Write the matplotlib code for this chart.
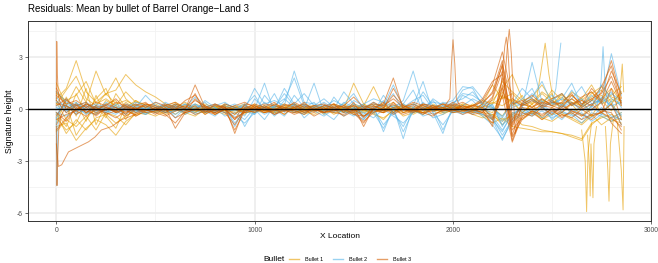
import numpy as np
import matplotlib
matplotlib.use("Agg")
import matplotlib.pyplot as plt
from matplotlib.lines import Line2D

plt.rcParams["font.family"] = ["Liberation Sans", "DejaVu Sans"]

# shared x grid of the signature samples (every 50 units)
x_grid = np.arange(0, 2851, 50)

# Bullet 1 residual signatures (values at x_grid)
b1_lines = [
    [0.6, 1.2, 2.8, 1.0, 0.4, 0.9, 0.3, 0.5, 0.2, 0.1,
     0.2, -0.1, 0.3, 0.1, -0.2, 0.2, 0.0, 0.3, 0.1, -0.1,
     0.2, 0.1, -0.2, 0.1, 0.3, 0.0, -0.1, 0.2, 0.1, 0.0,
     0.3, 0.1, -0.2, 0.0, 0.2, 0.1, -0.1, 0.3, 0.0, 0.1,
     0.2, 0.0, -0.1, 0.3, 0.5, 1.2, 2.0, 0.6, 0.3, 0.9,
     0.4, 0.2, 0.6, 0.1, 0.5, 0.8, 0.3, 1.0],
    [-0.5, -1.2, -0.8, 0.4, 2.2, 0.8, 1.8, 0.6, 0.1, -0.2,
     -0.1, 0.2, -0.3, 0.1, 0.0, -0.2, 0.2, -0.1, 0.1, 0.3,
     -0.2, 0.0, 0.1, -0.3, 0.1, 0.2, 0.0, -0.1, 0.3, -0.2,
     0.1, -0.4, 0.0, 0.2, -0.1, 0.1, 0.0, -0.2, 0.2, 0.1,
     -0.1, 0.3, 0.0, -0.2, -0.3, -0.6, -0.4, -0.9, -1.0, -1.2,
     -1.3, -1.4, -1.5, -1.7, -0.8, -0.5, -0.3, -0.6],
    [1.0, 0.3, -1.5, -0.6, 0.2, 0.9, 1.1, 2.0, 1.4, 1.0,
     0.7, 0.3, 0.1, 0.4, 0.0, -0.1, 0.2, 0.1, -0.2, 0.0,
     0.0, 0.2, -0.1, 0.1, 0.0, 0.3, 0.1, -0.2, 0.2, 0.0,
     1.5, 0.3, 0.0, -0.2, 0.1, 0.2, -0.1, 0.0, 0.1, 0.3,
     0.0, 0.2, 0.1, -0.1, 0.3, 0.7, 0.5, 0.2, 0.4, 1.0,
     0.6, 0.8, 0.4, 0.2, 0.9, 1.3, 0.7, 0.5],
    [-1.0, -0.8, -1.8, -1.1, -0.6, -0.9, -1.5, -0.7, -0.3, -0.2,
     -0.4, -0.1, 0.0, -0.3, 0.1, -0.2, -0.1, 0.0, -0.3, 0.1,
     -0.1, -0.2, 0.0, 0.1, -0.2, -0.1, 0.1, -0.3, 0.0, -0.1,
     -0.2, 0.0, -0.3, -0.5, -0.1, 0.0, -0.2, 0.1, -0.1, 0.0,
     -0.2, -0.1, 0.0, -0.3, -0.6, 0.8, 0.4, -0.2, 0.3, 0.6,
     0.2, 0.9, 0.3, -0.4, 0.2, 0.6, 1.2, 0.4],
    [0.3, 1.1, 1.9, 0.6, 0.2, -0.5, 0.9, 0.1, 0.5, 0.2,
     0.3, 0.0, 0.2, -0.1, 0.3, 0.1, -0.2, 0.2, 0.0, -0.1,
     0.2, 0.0, 0.3, -0.1, 0.1, 0.0, 0.2, -0.2, 0.1, 0.3,
     0.0, 0.2, 1.3, 0.1, -0.2, 0.3, -0.1, 0.0, 0.2, -0.1,
     0.3, 0.1, 0.2, 0.5, 0.3, 1.6, 1.0, 0.5, 0.7, 1.4,
     0.5, 0.3, 1.0, 0.6, 1.4, 0.4, 0.8, 1.3],
    [-0.3, -1.4, -0.6, -1.2, -0.5, -0.3, -0.8, -0.4, -0.1, 0.0,
     -0.2, 0.1, -0.1, 0.0, -0.2, 0.1, 0.0, -0.1, 0.1, -0.2,
     0.0, -0.1, -0.2, 0.0, 0.1, -0.1, -0.3, 0.0, -0.1, 0.1,
     -0.1, -0.2, 0.0, -0.1, 0.1, -0.4, -0.2, 0.0, -0.1, -0.3,
     0.0, -0.2, -0.1, -0.4, -0.8, -0.5, -1.0, -1.1, -1.2, -1.3,
     -1.3, -1.4, -1.6, -1.8, -0.9, -0.4, -0.7, -0.5],
    [0.9, 0.5, 0.8, 1.6, 0.3, 0.6, 0.2, 1.0, 0.4, 0.3,
     0.1, 0.2, 0.4, 0.1, 0.0, 0.3, 0.1, 0.2, 0.0, 0.1,
     0.0, 0.2, 0.1, 0.3, 0.0, 0.1, 0.2, 0.0, 0.3, 0.1,
     0.2, 0.1, 0.3, 0.0, 0.2, 0.1, 0.3, 0.1, 0.0, 0.2,
     0.1, 0.3, 0.2, 0.1, 0.4, 0.2, 0.6, 0.3, 0.1, 0.5,
     0.3, 0.7, 0.2, 0.5, 1.0, 0.3, 0.6, 0.2],
    [-1.3, -0.6, -1.0, -0.4, -1.2, -0.2, -0.4, -0.9, -0.2, -0.3,
     -0.1, -0.3, 0.0, -0.2, -0.4, 0.0, -0.1, -0.3, 0.0, -0.2,
     -0.1, 0.0, -0.2, -0.1, 0.0, -0.3, -0.1, 0.0, -0.2, -0.1,
     -0.3, -0.1, -0.2, -0.6, 0.0, -0.2, -0.1, -0.3, 0.0, -0.2,
     -0.1, 0.0, -0.3, -0.5, -0.3, -0.9, -0.2, -0.4, -0.1, -0.6,
     -0.3, -0.2, -0.5, -0.8, -0.3, -0.9, -0.5, -0.2],
    [0.4, -0.6, 0.9, -0.3, 0.6, 1.2, -0.2, 0.4, 0.0, 0.2,
     -0.2, 0.1, 0.3, -0.1, 0.2, -0.3, 0.1, 0.2, -0.1, 0.0,
     0.3, -0.1, 0.1, 0.2, -0.2, 0.0, 0.2, 0.1, -0.1, 0.2,
     0.0, 0.3, -0.1, 0.1, 0.4, -0.2, 0.1, 0.2, -0.1, 0.0,
     0.2, -0.1, 0.3, 0.0, -0.2, 1.0, 0.2, 0.8, -0.3, 0.4,
     0.9, -0.2, 0.3, 0.6, -0.4, 0.5, -0.1, 0.7],
    [-0.8, 0.7, -0.4, 1.2, -0.9, 0.3, 0.5, -0.6, 0.3, -0.1,
     0.1, -0.2, 0.0, 0.2, -0.1, 0.1, -0.3, 0.0, 0.2, -0.1,
     -0.2, 0.1, 0.0, -0.1, 0.2, -0.2, 0.0, 0.1, -0.3, 0.0,
     0.2, -0.1, 0.0, 0.3, -0.2, 0.1, -0.3, 0.0, 0.1, -0.2,
     0.0, 0.1, -0.2, 0.2, 0.1, -0.4, 0.5, -0.2, 0.3, -0.5,
     0.1, 0.4, -0.3, 0.2, 0.6, -0.2, 0.3, -0.4],
    [1.5, 0.2, 1.3, 0.4, -0.3, 0.5, 0.2, -0.3, 0.5, 0.1,
     0.0, 0.2, -0.1, 0.3, 0.1, 0.0, 0.2, -0.2, 0.1, 0.2,
     0.1, -0.2, 0.2, 0.0, 0.3, 0.1, -0.1, 0.2, 0.0, 0.1,
     -0.2, 0.1, 0.2, -0.1, 0.0, 0.2, 0.1, -0.2, 0.3, 0.0,
     0.1, 0.2, 0.0, 0.3, 1.4, 0.6, 0.9, 0.3, 0.6, 0.2,
     1.1, 0.5, 0.8, 0.3, 0.7, 1.1, 0.4, 0.9],
    [-0.2, -1.0, 0.4, -0.7, 0.8, -0.4, -1.1, 0.2, -0.4, -0.1,
     0.0, -0.2, 0.1, 0.0, -0.1, -0.2, 0.1, -0.1, 0.0, -0.3,
     0.1, 0.0, -0.1, 0.2, 0.0, -0.2, 0.1, -0.1, 0.0, -0.2,
     0.1, -0.1, 0.0, -0.2, 0.1, 0.0, -0.1, -0.2, 0.0, 0.1,
     -0.2, 0.0, -0.1, 0.0, -0.4, -0.7, -0.3, -0.6, -0.2, -0.5,
     -0.7, -0.3, -0.6, -0.9, -0.4, -0.2, -0.6, -0.8],
]

# Bullet 2 residual signatures
b2_lines = [
    [1.0, 0.4, 0.2, 0.1, 0.3, 0.1, 0.0, 0.2, 0.1, 0.8,
     0.2, -0.1, 0.3, 0.1, 0.7, 0.0, -0.2, 0.1, 0.3, 0.0,
     1.2, 0.3, 0.5, 0.2, 2.2, 0.4, 0.3, 0.1, 0.5, 0.2,
     0.0, 0.3, 0.6, 0.4, 0.1, 0.5, 2.2, 0.2, 0.4, 0.3,
     0.5, 1.3, 1.2, 0.2, -0.4, -1.2, -0.3, 0.1, 2.7, 0.4,
     0.2, 0.6, 0.3, 0.1, 0.5, 0.4, 3.2, 0.8],
    [0.5, -0.2, 0.3, 0.0, -0.1, 0.2, 0.1, -0.1, 0.0, -0.3,
     0.1, 0.2, -0.5, 0.1, 0.3, -0.2, 0.0, 0.2, -1.0, 0.1,
     0.0, 1.5, -0.2, 0.5, 1.8, 0.2, 0.1, 0.3, -0.2, 0.4,
     0.1, -0.3, 0.2, -1.3, 0.1, -1.7, 0.2, 1.6, -0.2, -1.4,
     0.2, 0.2, 0.6, 0.3, 0.1, -0.9, -0.4, 0.2, 0.5, 0.3,
     -0.2, 0.1, 0.4, -0.1, 0.3, 0.6, 0.2, -0.4],
    [-0.5, 0.6, -0.2, 0.3, 0.1, -0.1, 0.2, 0.0, -0.2, 0.1,
     -0.1, 0.3, 0.0, -0.2, 0.1, 0.2, -0.1, 0.0, 0.2, -1.0,
     0.0, -0.6, 0.2, -0.1, 0.3, 0.0, 1.5, -0.2, 0.1, -0.1,
     -0.4, 0.2, -0.1, 0.5, -0.3, 0.1, -0.2, 0.4, -0.1, 0.2,
     -0.2, 0.1, -0.3, 0.2, -0.6, -1.8, -0.5, 0.1, -0.3, 0.2,
     -0.4, 0.3, -0.2, -0.6, 0.2, -0.3, 0.5, -0.9],
    [0.2, 0.1, 0.4, -0.1, 0.2, 0.0, -0.1, 0.3, 0.1, 0.0,
     0.2, 0.0, 0.1, 0.3, -0.1, 0.5, 0.1, -0.2, 0.0, 0.3,
     -0.3, 0.8, 0.1, 0.9, 0.2, -0.2, 0.1, 0.4, 0.0, 1.0,
     0.3, -0.6, 0.1, 0.2, 0.9, -0.1, 0.3, 0.0, 0.5, -0.2,
     0.3, 0.9, 0.8, 0.4, 0.2, -0.7, 0.1, 0.3, 0.9, 0.4,
     0.8, 0.2, 1.1, 0.3, -0.1, 0.7, 0.2, 0.4],
    [-0.2, -0.4, 0.0, -0.2, -0.3, 0.1, -0.2, 0.0, -0.1, -0.3,
     0.0, -0.2, -0.1, 0.1, -0.3, -0.1, 0.0, -0.2, -0.4, -0.8,
     -0.2, 0.1, -0.3, 0.0, -0.2, 0.2, -0.1, -0.4, 0.0, -0.2,
     -0.1, -0.4, -0.2, -1.1, 0.0, -1.3, -0.1, -0.3, 0.1, -1.2,
     0.0, -0.2, -0.1, -0.3, -0.5, -1.5, -0.6, -0.2, -0.4, -0.1,
     -0.5, -0.2, -0.3, -0.8, -0.2, -0.4, -0.7, -0.3],
    [0.4, 0.2, -0.1, 0.2, 0.0, 0.3, -0.1, 0.1, 0.4, 0.2,
     -0.1, 0.1, 0.2, 0.0, 0.2, 0.1, 0.3, 0.0, -0.1, 0.2,
     0.8, -0.1, 0.2, 0.6, 0.1, 0.3, 0.0, 0.2, 0.1, -0.1,
     0.3, 0.1, 0.4, 0.0, 0.2, 0.3, 0.0, 1.0, 0.2, 0.1,
     0.4, 0.6, 1.0, 0.3, 0.0, -0.4, 0.3, 1.2, 0.6, 0.2,
     0.4, 0.1, 0.6, 1.3, 0.3, 0.5, 1.0, 0.1],
    [0.7, 0.0, 0.3, 0.2, -0.2, 0.4, 0.1, 0.0, 0.3, -0.1,
     0.4, 0.1, -0.1, 0.3, 0.0, 0.4, -0.2, 0.3, 0.1, -0.4,
     0.6, 0.0, 0.9, -0.2, 0.8, 0.1, 0.4, -0.3, 0.7, 0.0,
     0.5, 0.2, -0.2, 0.8, 0.0, 0.3, 1.1, -0.1, 0.6, 0.2,
     0.0, 0.8, 0.5, -0.1, 0.3, -1.0, 0.2, 0.6, 1.2, 0.0,
     0.5, 0.9, 0.2, 0.6, 0.1, 1.4, 0.6, 0.3],
    [-0.3, 0.3, 0.1, -0.3, 0.2, -0.2, 0.0, -0.3, 0.2, 0.0,
     -0.2, 0.0, -0.3, 0.1, -0.2, 0.0, 0.1, -0.4, -0.2, -0.6,
     0.1, -0.3, 0.0, -0.4, 0.3, -0.5, 0.0, -0.2, -0.6, 0.1,
     -0.3, -0.6, 0.0, -0.9, -0.2, -1.0, 0.1, -0.4, -0.2, -0.9,
     -0.1, -0.3, 0.1, -0.4, -0.9, -1.7, -0.7, -0.3, 0.0, -0.5,
     -0.2, -0.6, 0.0, -0.3, -0.5, 0.1, -0.4, -0.6],
    [0.1, -0.1, 0.2, 0.4, 0.0, -0.2, 0.3, 0.1, -0.1, 0.2,
     0.0, 0.4, 0.1, -0.1, 0.3, 0.0, 0.2, 0.4, 0.0, 0.2,
     -0.1, 0.4, 0.0, 1.2, 0.3, 0.9, 0.2, 0.6, 0.1, 0.3,
     0.9, 0.0, 0.3, 0.2, 1.4, 0.1, 0.5, 0.8, 0.0, 0.4,
     0.2, 1.1, 1.3, 0.6, 0.1, -0.5, 0.4, 0.2, 0.7, 1.6,
     0.3, 0.6, 1.5, 0.2, 0.8, 0.3, 0.9, 0.5],
    [0.0, 0.2, -0.3, 0.0, 0.1, -0.1, -0.3, 0.1, 0.0, -0.2,
     0.1, -0.2, 0.2, -0.3, 0.0, -0.1, -0.4, 0.1, -0.8, -0.1,
     -0.3, 0.2, -0.4, 0.1, -0.1, -0.3, 0.2, -0.1, 0.0, -0.4,
     0.1, -0.2, -0.5, 0.0, -0.4, -0.8, -0.2, 0.1, -0.5, -0.3,
     0.1, -0.2, 0.0, -0.3, -0.6, -1.3, -0.2, -0.1, -0.3, 0.2,
     -0.6, -0.1, -0.4, -0.2, -0.7, -0.3, -0.5, -0.2],
]

# Bullet 3 residual signatures
b3_lines = [
    [0.3, 0.2, -0.1, 0.3, 0.0, 0.2, -0.2, 0.1, 0.0, 0.3,
     0.1, -0.2, 0.2, 0.0, 1.4, 0.1, -0.1, 0.2, -1.4, 0.1,
     0.0, 0.2, -0.1, 0.3, 0.1, -0.2, 0.0, 0.2, 0.1, -0.1,
     0.2, -1.0, 0.1, 0.3, 1.8, 0.0, 0.2, -0.1, 0.1, 0.3,
     0.0, 0.2, -0.1, 0.3, 1.0, 2.8, -1.5, 0.3, 0.1, 0.4,
     0.2, 0.0, 0.3, 0.5, 0.2, 1.0, 2.8, 0.6],
    [-0.4, 0.5, 0.2, -0.2, 0.1, -0.3, -0.1, 0.2, -0.2, 0.0,
     -0.3, 0.1, -1.1, -0.2, 0.0, 0.2, -0.3, 0.0, -1.2, -0.1,
     0.1, -0.2, 0.0, -0.3, 0.2, 0.0, -0.2, 0.1, -0.1, 0.0,
     -0.2, -0.8, 0.0, -0.1, 0.3, -0.2, 0.0, -0.3, 0.1, -0.1,
     0.2, -0.1, 0.0, -0.2, 0.6, 2.2, -1.8, -0.2, -0.4, 0.1,
     -0.3, 0.2, -0.1, -0.4, 0.0, 0.4, -0.8, -1.4],
    [0.8, 0.3, 0.5, 0.1, 0.4, 0.2, 0.6, 0.0, 0.3, 0.1,
     0.4, 0.2, 0.0, 0.5, 0.8, 0.1, 0.3, 0.0, 0.2, 0.4,
     0.1, 0.3, 0.2, 0.0, 0.4, 0.1, 0.2, 0.3, 0.0, 0.2,
     0.7, 0.1, 0.3, 0.2, 0.6, 0.1, 0.4, 0.2, 0.0, 0.3,
     0.2, 0.4, 0.1, 0.5, 1.4, 3.3, 0.6, 0.2, 0.5, 0.1,
     0.4, 0.3, 0.6, 0.2, 1.2, 0.5, 2.2, 0.9],
    [-0.6, -0.3, -0.1, -0.4, 0.0, -0.2, -0.5, -0.1, -0.3, 0.0,
     -0.2, -0.4, -0.1, 0.0, -0.3, -0.1, -0.2, 0.0, -0.5, -0.2,
     -0.1, 0.0, -0.3, -0.1, -0.2, 0.0, -0.4, -0.1, -0.2, -0.3,
     0.0, -0.4, -0.1, -0.2, 0.0, -0.3, -0.1, -0.2, -0.4, 0.0,
     -0.2, -0.1, -0.3, -0.2, -0.8, 1.8, -1.2, -0.5, -0.2, -0.6,
     -0.1, -0.4, -0.2, -0.6, -0.3, -0.2, -0.5, -1.0],
    [1.2, 0.0, 0.3, -0.2, 0.2, 0.1, -0.1, 0.3, 0.0, 0.2,
     0.0, 0.3, 0.1, -0.2, 0.6, 0.0, 0.2, 0.1, -0.3, 0.2,
     0.0, 0.1, 0.4, -0.1, 0.1, 0.3, 0.0, -0.2, 0.2, 0.1,
     -0.1, 0.2, 0.0, 0.4, -0.2, 0.1, 0.3, 0.0, 0.2, -0.1,
     0.1, 0.0, 0.2, 0.4, 0.9, 2.5, -0.9, 0.4, 0.8, 0.3,
     0.6, 0.9, 0.2, 0.7, 1.0, 0.4, 1.6, 0.3],
    [-1.2, -0.5, 0.0, 0.2, -0.2, 0.0, 0.1, -0.2, 0.1, -0.1,
     0.1, -0.1, 0.0, 0.2, -0.1, 0.0, -0.2, 0.1, 0.0, -0.2,
     0.2, -0.1, 0.0, 0.1, -0.1, 0.2, -0.1, 0.0, 0.1, 0.2,
     -0.1, 0.0, 0.2, -0.1, 0.1, 0.0, -0.1, 0.2, 0.0, 0.1,
     -0.1, 0.2, 0.0, 0.1, -0.5, 1.2, -1.0, 0.1, 0.0, 0.2,
     0.1, -0.2, 0.4, 0.0, 0.3, -0.2, 1.2, -0.6],
    [0.5, -0.2, 0.2, 0.4, -0.1, 0.3, 0.1, -0.3, 0.2, 0.4,
     -0.1, 0.2, 0.4, 0.0, 0.9, -0.2, 0.3, 0.1, -0.6, 0.3,
     0.2, -0.1, 0.3, 0.1, 0.0, 0.4, -0.1, 0.2, 0.3, -0.2,
     0.4, -0.5, 0.2, 0.0, 1.2, 0.2, -0.1, 0.3, 0.1, 0.0,
     0.4, 0.1, 0.2, 0.6, 1.6, 2.0, -0.6, 0.3, 0.6, 0.2,
     0.5, 0.1, 0.8, 0.3, 0.6, 0.9, 1.9, 0.4],
    [-0.9, 0.2, -0.3, 0.1, -0.4, 0.1, -0.2, 0.0, -0.4, -0.1,
     0.0, -0.3, -0.8, -0.1, 0.2, -0.3, 0.0, -0.2, -0.9, 0.0,
     -0.2, 0.1, -0.3, 0.0, -0.1, -0.3, 0.1, -0.2, 0.0, -0.4,
     -0.1, -0.7, -0.2, 0.1, -0.3, 0.0, -0.2, 0.1, -0.3, -0.1,
     0.0, -0.3, -0.1, 0.0, -1.0, 1.4, -1.6, -0.6, -0.1, -0.4,
     0.0, -0.5, -0.1, -0.3, -0.6, -0.1, -0.2, -1.2],
    [0.2, 0.6, 0.0, 0.3, 0.1, -0.1, 0.4, 0.2, 0.0, 0.3,
     0.2, 0.0, 0.3, 0.1, 0.5, 0.2, -0.1, 0.3, 0.1, 0.0,
     0.3, 0.1, 0.0, 0.2, 0.3, -0.1, 0.2, 0.0, 0.3, 0.1,
     0.2, 0.0, 0.4, 0.1, 0.8, 0.2, 0.0, 0.3, 0.2, 0.1,
     0.3, 0.0, 0.2, 0.1, 0.7, 2.6, 0.3, 0.5, 0.1, 0.6,
     0.2, 0.4, 0.9, 0.1, 0.5, 1.3, 2.5, 0.2],
    [-0.2, -0.7, 0.1, -0.1, -0.3, 0.0, -0.1, -0.4, 0.0, -0.2,
     -0.1, 0.0, -0.5, -0.2, 0.0, -0.1, -0.3, 0.0, -0.6, -0.1,
     0.0, -0.2, -0.1, 0.0, -0.3, -0.1, 0.0, -0.2, -0.1, 0.0,
     -0.3, -0.4, 0.0, -0.2, 0.4, -0.1, 0.0, -0.2, -0.1, 0.0,
     -0.1, 0.0, -0.2, -0.1, -0.6, 0.8, -1.9, -0.4, -0.1, -0.3,
     0.0, -0.3, -0.5, 0.0, -0.4, -0.2, 0.3, -0.9],
]

# narrow features read at finer x positions: (x list, y list)
b1_extra = [
    ([2420, 2445, 2466, 2485, 2510], [0.4, 2.2, 3.8, 2.0, 0.3]),
    ([2650, 2668, 2675, 2682, 2700], [-1.2, -3.0, -5.9, -2.5, -0.8]),
    ([2680, 2690, 2693, 2697, 2702, 2707, 2712, 2725],
     [-1.5, -3.5, -5.0, -2.0, -3.5, -5.1, -2.0, -1.0]),
    ([2770, 2782, 2788, 2795, 2810], [-1.0, -3.5, -5.3, -2.0, -0.6]),
    ([2830, 2850, 2859, 2864], [-0.8, -3.5, -5.8, -1.0]),
    ([2840, 2855, 2862], [0.5, 2.6, 1.0]),
]
b2_extra = [
    ([0, 3, 8, 15], [-0.5, -4.4, -1.0, 0.1]),
    ([2500, 2520, 2535, 2545], [0.3, 1.2, 2.8, 3.8]),
    ([2730, 2748, 2758, 2768, 2785], [0.2, 1.6, 3.6, 1.4, 0.1]),
]
b3_extra = [
    ([0, 2, 5, 10, 20], [0.5, 3.9, 2.0, 0.8, 0.3]),
    ([0, 3, 6, 12, 25], [-1.0, -4.4, -3.0, -1.2, -0.3]),
    ([0, 10, 27, 61, 111, 162, 195, 227, 278, 330, 400],
     [-2.0, -3.3, -3.2, -2.46, -2.17, -1.88, -1.6, -1.2, -1.0, -0.6, -0.3]),
    ([1960, 1985, 1993, 2001, 2010, 2018, 2040], [0.2, 0.6, 2.6, 4.0, 2.6, 0.6, 0.1]),
    ([2220, 2245, 2262, 2270, 2278, 2300, 2320], [0.2, 1.5, 3.6, 4.15, 3.4, -0.8, -0.3]),
    ([2230, 2260, 2275, 2285, 2295, 2315, 2340], [0.1, 1.2, 3.6, 4.6, 3.2, -1.4, -0.2]),
]

bullets = ["Bullet 1", "Bullet 2", "Bullet 3"]
colors = ["#E69F00", "#56B4E9", "#D55E00"]

fig = plt.figure(figsize=(6.58, 2.63), dpi=100)
ax = fig.add_axes([0.0426, 0.1597, 0.9468, 0.7605])

ax.set_xlim(-143, 3000)
ax.set_ylim(-6.44, 5.08)
ax.set_xticks([0, 1000, 2000, 3000])
ax.set_yticks([-6, -3, 0, 3])
ax.set_yticklabels(["-6", "-3", "0", "3"])
ax.set_xticks([500, 1500, 2500], minor=True)
ax.set_yticks([-4.5, -1.5, 1.5, 4.5], minor=True)
ax.grid(True, which="major", color="#EBEBEB", lw=1.1)
ax.grid(True, which="minor", color="#F2F2F2", lw=0.6)
ax.set_axisbelow(True)
ax.tick_params(which="major", length=2.0, width=0.5, color="#333333",
               labelsize=4.9, labelcolor="#4D4D4D", pad=2)
ax.tick_params(which="minor", length=0)
for s in ax.spines.values():
    s.set_color("#333333")
    s.set_linewidth(0.7)

groups = [(b1_lines, b1_extra), (b2_lines, b2_extra), (b3_lines, b3_extra)]
for (lines, extra), col in zip(groups, colors):
    for y in lines:
        ax.plot(x_grid, y, color=col, lw=0.7, alpha=0.6)
    for xs, ys in extra:
        ax.plot(xs, ys, color=col, lw=0.7, alpha=0.6)

ax.axhline(0, color="black", lw=1.0, zorder=5)

ax.set_xlabel("X Location", fontsize=6.0, va="center")
ax.xaxis.set_label_coords(0.5, -0.0785)
ax.set_ylabel("Signature height", fontsize=6.2, va="center")
ax.yaxis.set_label_coords(-0.029, 0.5)
fig.text(0.0426, 0.965, "Residuals: Mean by bullet of Barrel Orange\u2212Land 3",
         fontsize=7.0, ha="left", va="center")

handles = [Line2D([], [], color=c, lw=1.0, alpha=0.6) for c in colors]
fig.text(263 / 658, 0.012, "Bullet", fontsize=6.0, ha="left", va="center")
fig.legend(handles, bullets, loc="center left", bbox_to_anchor=(289 / 658, 0.012),
           ncol=3, frameon=False, fontsize=3.9, handlelength=1.85,
           handletextpad=1.1, columnspacing=1.85, borderpad=0,
           borderaxespad=0)

fig.savefig("out.png", dpi=100)
